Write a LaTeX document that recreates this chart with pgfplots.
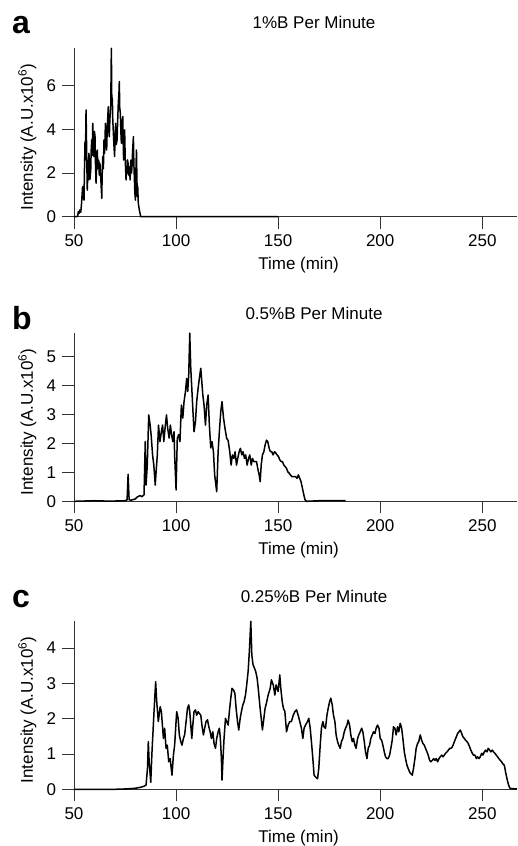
\documentclass[border=0pt]{standalone}
\usepackage{fontspec}
\setmainfont{Liberation Sans}
\usepackage{pgfplots}
\pgfplotsset{compat=1.18}
\pgfplotsset{chrom/.style={
  scale only axis, width=443pt, height=168.4pt,
  xmin=50, xmax=267, ymin=0,
  axis x line=bottom, axis y line=left,
  axis line style={-, black!80, line width=0.9pt},
  tick style={black!80, line width=0.9pt},
  tick align=outside, major tick length=12pt,
  xtick={50,100,150,200,250},
  /pgf/number format/assume math mode=true,
  scaled ticks=false,
  xlabel={Time (min)},
  ylabel={Intensity (A.U.x10\textsuperscript{6})},
  xlabel style={at={(rel axis cs:0.507,-0.3135)}, anchor=base},
  ylabel style={at={(rel axis cs:-0.0926,0.472)}, anchor=base},
  clip=false,
  cycle list={{black, line width=1.5pt, line join=round, mark=none}},
}}
\begin{document}
\fontsize{17}{20}\selectfont
\begin{tikzpicture}
\useasboundingbox (0,0) rectangle (517pt,-846pt);
\node[anchor=base west, inner sep=0pt, font=\fontsize{32}{32}\selectfont\bfseries] at (12pt,-33.3pt) {a};
\node[anchor=base west, inner sep=0pt, font=\fontsize{32}{32}\selectfont\bfseries] at (12pt,-329.3pt) {b};
\node[anchor=base west, inner sep=0pt, font=\fontsize{32}{32}\selectfont\bfseries] at (12pt,-607.3pt) {c};

% Panel a
\begin{axis}[chrom, at={(74pt,-216.7pt)}, anchor=south west, ymax=7.7, ytick={0,2,4,6}]
\addplot[black, line width=1.5pt, line join=round, mark=none] coordinates {
(50,0) (51,0) (51.8,0.02) (52.1,0.23) (52.5,0.15) (52.9,0.31) (53.3,0.2) (53.7,0.6)
(54.2,1.37) (54.5,0.9) (54.9,0.76) (55.1,2.0) (55.4,3.43) (55.6,2.6) (55.9,4.88) (56.2,3.0)
(56.5,1.22) (56.8,2.1) (57.0,1.68) (57.3,2.9) (57.5,2.59) (57.8,1.7) (58.2,2.14) (58.4,3.0)
(58.7,3.51) (58.9,2.8) (59.2,4.27) (59.5,3.2) (59.8,2.75) (60.0,3.9) (60.3,3.66) (60.5,2.5)
(60.8,1.53) (61.1,2.3) (61.4,3.05) (61.7,2.2) (62.1,2.59) (62.4,1.9) (62.7,2.44) (63.1,1.8)
(63.6,0.84) (63.8,1.9) (64.1,2.75) (64.4,2.2) (64.7,3.51) (65.0,2.9) (65.4,4.27) (65.7,3.3)
(66.0,3.05) (66.3,4.1) (66.8,5.03) (67.0,4.0) (67.3,3.66) (67.6,4.5) (68.0,5.03) (68.3,7.70)
(68.5,5.5) (68.8,5.34) (69.0,4.4) (69.3,3.81) (69.6,3.2) (69.9,2.75) (70.1,3.6) (70.4,4.27)
(70.7,3.3) (71.1,3.51) (71.4,4.4) (71.7,5.19) (72.0,5.6) (72.2,6.18) (72.4,5.0) (72.7,4.73)
(73.0,3.8) (73.2,3.36) (73.5,4.2) (73.9,4.58) (74.1,3.4) (74.3,2.59) (74.6,3.5) (74.8,3.97)
(75.1,2.6) (75.5,1.68) (75.8,2.3) (76.0,1.98) (76.2,2.6) (76.5,2.44) (76.8,1.9) (77.0,2.29)
(77.3,2.0) (77.5,1.68) (77.7,2.4) (77.9,2.59) (78.2,2.0) (78.4,2.29) (78.7,3.0) (79.1,3.66)
(79.3,2.5) (79.6,1.68) (79.8,1.1) (80.1,0.76) (80.3,2.0) (80.6,3.05) (80.8,1.8) (81.0,0.92)
(81.2,1.4) (81.5,0.61) (82.0,0.31) (82.7,0.0) (90,0) (150,0)
};
\node[anchor=base] at (rel axis cs:0.5418,1.1205) {1\%B Per Minute};
\end{axis}

% Panel b
\begin{axis}[chrom, at={(74pt,-501.3pt)}, anchor=south west, ymax=5.81, ytick={0,1,2,3,4,5}]
\addplot[black, line width=1.5pt, line join=round, mark=none] coordinates {
(50,0) (55,0.01) (60,0.02) (65,0.01) (70,0.01) (75,0.02) (76.0,0.05) (76.5,0.93) (77.0,0.05)
(78,0.04) (80,0.08) (81,0.15) (82.4,0.2) (83.2,0.16) (84.3,0.22) (84.9,2.06) (85.3,0.56)
(85.9,1.25) (86.6,2.98) (87.3,2.63) (87.8,2.28) (88.5,1.59) (89.1,1.25) (89.8,0.56) (90.2,1.0)
(90.8,1.59) (91.4,2.63) (91.8,2.3) (92.1,2.06) (92.8,2.4) (93.4,2.63) (94.0,2.06) (94.6,2.52)
(95.3,2.98) (95.9,2.52) (96.6,2.18) (97.2,2.63) (97.8,2.3) (98.4,2.06) (99.0,2.4) (99.3,1.59)
(100.0,0.39) (100.6,2.18) (101.3,2.3) (101.9,2.06) (102.6,3.32) (103.3,2.87) (103.9,3.44)
(104.6,3.79) (105.2,4.24) (105.7,3.79) (106.2,4.36) (106.7,5.8) (107.2,4.59) (107.7,3.9)
(108.2,3.2) (108.8,2.4) (109.5,2.75) (110.1,3.44) (110.8,3.9) (111.4,4.24) (112.1,4.59)
(112.6,4.13) (113.1,3.67) (113.7,3.32) (114.4,2.63) (115.0,3.32) (115.7,3.67) (116.3,2.63)
(117.0,1.84) (117.6,2.06) (118.3,1.71) (118.9,0.91) (119.9,0.33) (120.6,1.71) (121.2,2.4)
(121.9,3.1) (122.5,3.44) (123.2,2.9) (124.0,2.5) (124.8,2.17) (125.5,2.1) (126.3,1.71)
(126.96,1.25) (127.6,1.6) (128.3,1.48) (128.9,1.71) (129.6,1.25) (130.2,1.48) (130.9,1.71)
(131.5,1.83) (132.2,1.6) (132.8,1.71) (133.5,1.48) (134.1,1.6) (134.8,1.25) (135.5,1.48)
(136.1,1.6) (136.8,1.25) (137.4,1.48) (138.1,1.37) (138.7,1.37) (139.4,1.37) (140.0,1.14)
(140.7,0.91) (141.2,0.68) (141.7,1.25) (142.3,1.6) (143.0,1.71) (143.6,1.94) (144.3,2.11)
(144.9,2.06) (145.6,1.83) (146.2,1.71) (146.9,1.71) (147.5,1.6) (148.2,1.71) (148.9,1.66)
(149.5,1.6) (150.2,1.54) (150.8,1.43) (151.5,1.37) (152.1,1.37) (152.8,1.25) (153.4,1.2)
(154.1,1.14) (154.7,1.02) (155.4,0.97) (156.0,0.91) (156.7,0.85) (157.3,0.85) (158.0,0.85)
(158.6,0.85) (159.3,0.79) (159.9,0.91) (160.6,0.79) (161.2,0.68) (161.9,0.45) (162.6,0.22)
(163.2,0.05) (163.9,0) (170,0.02) (183,0.02)
};
\node[anchor=base] at (rel axis cs:0.5418,1.0795) {0.5\%B Per Minute};
\end{axis}

% Panel c
\begin{axis}[chrom, at={(74pt,-789.3pt)}, anchor=south west, ymax=4.77, ytick={0,1,2,3,4}]
\addplot[black, line width=1.5pt, line join=round, mark=none] coordinates {
(50,0) (60,0) (70,0) (75,0.01) (78,0.02) (80,0.03) (82,0.05) (84,0.08) (85.3,0.12) (86.0,0.6)
(86.4,1.35) (86.8,0.8) (87.6,0.2) (88.2,1.06) (89.2,2.2) (90.0,3.05) (90.5,2.5) (91.3,1.92)
(92.2,2.34) (92.8,2.2) (93.8,1.44) (94.4,1.73) (95.1,1.16) (95.7,1.25) (96.4,0.78) (97.1,0.87)
(98.0,0.4) (98.7,0.97) (99.3,1.25) (100.0,1.92) (100.3,2.2) (101.0,2.01) (101.6,1.54) (102.3,1.35)
(102.9,1.25) (103.6,1.44) (104.2,1.54) (104.9,1.92) (105.6,2.3) (106.2,2.39) (106.7,2.2)
(107.2,1.82) (107.7,1.44) (108.2,1.82) (108.8,2.2) (109.5,2.25) (110.1,2.1) (110.8,2.2)
(111.4,2.15) (112.1,2.1) (112.7,1.8) (113.4,1.54) (114.0,1.73) (114.7,1.92) (115.4,1.97)
(116.0,1.78) (116.7,1.63) (117.3,1.44) (118.0,1.63) (118.6,1.3) (119.3,1.16) (119.9,1.44)
(120.6,1.63) (121.2,1.73) (121.7,1.44) (122.2,0.87) (122.5,0.26) (123.0,0.87) (123.5,1.44)
(124.2,2.01) (124.8,1.92) (125.5,1.82) (126.1,2.2) (126.8,2.58) (127.4,2.86) (128.1,2.82)
(128.8,2.72) (129.4,2.3) (130.1,1.92) (130.7,1.68) (131.4,2.01) (132.0,2.2) (132.7,2.39)
(133.3,2.48) (134.0,2.67) (134.6,2.96) (135.3,3.34) (135.9,3.91) (136.6,4.76) (137.1,3.81)
(137.7,3.53) (138.4,3.43) (139.0,3.34) (139.7,3.15) (140.4,2.77) (141.0,2.39) (141.7,2.01)
(142.3,1.68) (143.0,2.01) (143.6,2.29) (144.4,2.48) (145.1,2.67) (146.1,2.86) (146.7,3.1)
(147.6,2.96) (148.4,2.67) (149.0,2.96) (150.0,2.77) (150.8,3.24) (151.3,2.86) (152.0,2.48)
(152.6,2.29) (153.3,2.2) (154.1,1.63) (154.9,1.82) (155.7,1.92) (156.5,1.92) (157.4,2.1)
(158.2,2.2) (159.0,2.25) (159.8,2.1) (160.6,1.92) (161.4,1.73) (162.1,1.44) (162.7,1.73)
(163.4,1.82) (164.4,1.92) (165.0,2.01) (165.7,1.73) (166.3,1.35) (167.0,0.87) (167.6,0.4)
(168.3,0.35) (169.3,0.3) (169.9,0.59) (170.6,1.25) (171.2,1.73) (171.9,1.92) (172.5,1.77)
(173.2,1.73) (173.9,2.1) (174.5,2.29) (175.2,2.48) (175.8,2.58) (176.5,2.39) (177.1,2.1)
(177.8,1.92) (178.4,1.54) (179.1,1.35) (179.7,1.25) (180.4,1.16) (181.0,1.35) (181.7,1.44)
(182.4,1.63) (183.0,1.73) (183.7,1.82) (184.3,1.96) (185.0,1.82) (185.6,1.54) (186.3,1.35)
(186.9,1.44) (187.6,1.25) (188.2,1.16) (188.9,1.44) (189.5,1.54) (190.2,1.63) (190.9,1.73)
(191.5,1.63) (192.2,1.35) (192.8,1.06) (193.5,0.87) (194.1,1.16) (194.8,1.25) (195.4,1.44)
(196.1,1.54) (196.7,1.63) (197.4,1.58) (198.0,1.73) (198.7,1.82) (199.4,1.73) (200.0,1.44)
(200.7,1.39) (201.3,1.25) (202.0,1.06) (202.6,0.92) (203.3,0.87) (203.9,0.87) (204.6,0.97)
(205.2,1.16) (205.9,1.4) (206.5,1.77) (207.2,1.73) (207.8,1.54) (208.5,1.77) (209.1,1.63)
(209.8,1.87) (210.5,1.73) (211.1,1.44) (211.8,1.06) (212.4,0.87) (213.1,0.68) (213.7,0.59)
(214.4,0.49) (215.0,0.44) (215.7,0.4) (216.3,0.59) (217.0,0.87) (217.6,1.16) (218.3,1.3)
(218.9,1.35) (219.6,1.54) (220.3,1.39) (220.9,1.3) (221.6,1.25) (222.2,1.16) (222.9,1.06)
(223.5,0.97) (224.2,0.82) (224.8,0.78) (225.5,0.82) (226.2,0.87) (226.8,0.82) (227.5,0.87)
(228.1,0.78) (228.8,0.87) (229.4,0.92) (230.1,0.97) (230.8,0.92) (231.4,0.97) (232.0,1.02)
(232.7,1.06) (233.4,1.11) (234.0,1.16) (234.6,1.16) (235.3,1.2) (236.0,1.3) (236.6,1.39)
(237.3,1.49) (237.9,1.58) (238.6,1.63) (239.2,1.68) (239.9,1.58) (240.5,1.49) (241.2,1.44)
(241.8,1.39) (242.5,1.35) (243.1,1.3) (243.8,1.2) (244.4,1.11) (245.1,1.02) (245.7,0.97)
(246.4,0.97) (247.1,0.87) (247.7,0.92) (248.4,0.87) (249.0,0.92) (249.7,1.02) (250.3,0.97)
(251.0,1.06) (251.6,1.11) (252.3,1.06) (252.9,1.16) (253.6,1.11) (254.2,1.06) (254.9,1.11)
(255.5,1.06) (256.2,1.02) (256.8,0.97) (257.5,0.92) (258.1,0.87) (258.8,0.82) (259.4,0.78)
(260.1,0.72) (260.8,0.68) (261.4,0.49) (262.1,0.3) (262.7,0.16) (263.4,0.04) (264.1,0.02) (267,0.01)
};
\node[anchor=base] at (rel axis cs:0.5418,1.1098) {0.25\%B Per Minute};
\end{axis}
\end{tikzpicture}
\end{document}
